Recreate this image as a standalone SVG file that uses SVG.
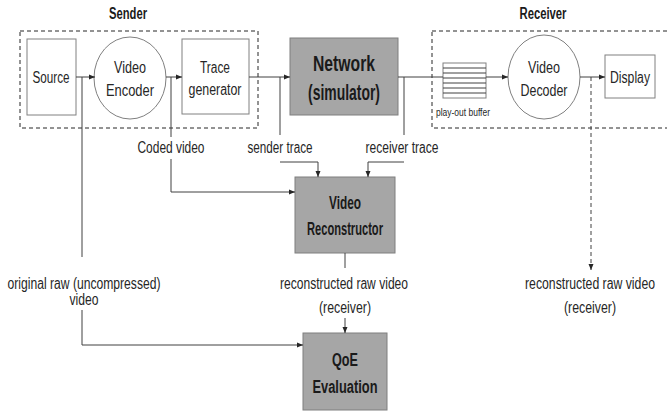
<svg xmlns="http://www.w3.org/2000/svg" width="667" height="416" viewBox="0 0 667 416">
<style>
text{font-family:"Liberation Sans",Arial,sans-serif;font-size:16px;fill:#262626;text-anchor:middle}
.b{font-weight:bold;fill:#1a1a1a}
.box{fill:#fff;stroke:#808080;stroke-width:1}
.g{fill:#a6a6a6;stroke:#7f7f7f;stroke-width:1}
.dash{fill:none;stroke:#262626;stroke-width:1;stroke-dasharray:4 3}
.ln{fill:none;stroke:#404040;stroke-width:1}
.ar{fill:none;stroke:#404040;stroke-width:1;marker-end:url(#ah)}
</style>
<defs>
<marker id="ah" viewBox="0 0 6 6" refX="6" refY="3" markerWidth="6" markerHeight="6" markerUnits="userSpaceOnUse" orient="auto">
<path d="M0,0.5 L6,3 L0,5.5 z" fill="#262626"/>
</marker>
</defs>
<g id="sender">
<rect class="dash" x="20" y="31" width="238" height="97"/>
<text class="b" x="128" y="19" style="font-size:16px" textLength="38" lengthAdjust="spacingAndGlyphs">Sender</text>
</g>
<g id="receiver">
<rect class="dash" x="432" y="31" width="245" height="97"/>
<text class="b" x="543" y="19" style="font-size:16px" textLength="47" lengthAdjust="spacingAndGlyphs">Receiver</text>
</g>
<g id="source">
<rect class="box" x="27" y="39" width="49" height="76"/>
<text x="51" y="83" textLength="37" lengthAdjust="spacingAndGlyphs">Source</text>
</g>
<g id="encoder">
<ellipse class="box" cx="130" cy="78" rx="36" ry="41"/>
<text x="130" y="73" textLength="32" lengthAdjust="spacingAndGlyphs">Video</text>
<text x="130" y="96" textLength="48" lengthAdjust="spacingAndGlyphs">Encoder</text>
</g>
<g id="trace">
<rect class="box" x="182" y="39" width="67" height="75"/>
<text x="215" y="73" textLength="30" lengthAdjust="spacingAndGlyphs">Trace</text>
<text x="215" y="95" textLength="53" lengthAdjust="spacingAndGlyphs">generator</text>
</g>
<g id="network">
<rect class="g" x="290" y="38" width="108" height="77"/>
<text class="b" x="344" y="71" style="font-size:22px" textLength="62" lengthAdjust="spacingAndGlyphs">Network</text>
<text class="b" x="344" y="100" style="font-size:22px" textLength="72" lengthAdjust="spacingAndGlyphs">(simulator)</text>
</g>
<g id="buffer">
<rect class="box" x="443" y="63" width="43" height="35"/>
<path class="ln" d="M443,68H486M443,73H486M443,78H486M443,83H486M443,88H486M443,93H486"/>
<text x="463" y="116" style="font-size:10.5px" textLength="54" lengthAdjust="spacingAndGlyphs">play-out buffer</text>
</g>
<g id="decoder">
<ellipse class="box" cx="544" cy="77" rx="36" ry="42"/>
<text x="544" y="73" textLength="32" lengthAdjust="spacingAndGlyphs">Video</text>
<text x="544" y="96" textLength="47" lengthAdjust="spacingAndGlyphs">Decoder</text>
</g>
<g id="display">
<rect class="box" x="605" y="55" width="50" height="43"/>
<text x="630" y="83" textLength="40" lengthAdjust="spacingAndGlyphs">Display</text>
</g>
<g id="reconstructor">
<rect class="g" x="295" y="177" width="100" height="76"/>
<text class="b" x="345" y="209" style="font-size:18px" textLength="32" lengthAdjust="spacingAndGlyphs">Video</text>
<text class="b" x="345" y="235" style="font-size:18px" textLength="76" lengthAdjust="spacingAndGlyphs">Reconstructor</text>
</g>
<g id="qoe">
<rect class="g" x="303" y="333" width="84" height="77"/>
<text class="b" x="345" y="366" style="font-size:18px" textLength="26" lengthAdjust="spacingAndGlyphs">QoE</text>
<text class="b" x="345" y="393" style="font-size:18px" textLength="65" lengthAdjust="spacingAndGlyphs">Evaluation</text>
</g>
<g id="connectors">
<path class="ar" d="M76,77H95"/>
<path class="ar" d="M166,77H182"/>
<path class="ar" d="M249,77H290"/>
<path class="ln" d="M398,77H443"/>
<path class="ar" d="M486,77H508"/>
<path class="ar" d="M580,77H605"/>
<path class="ar" d="M591,77V270" stroke-dasharray="4 3"/>
<path class="ln" d="M82,77V257"/>
<path class="ar" d="M82,310V345H303"/>
<path class="ln" d="M171,77V137"/>
<path class="ar" d="M171,159V192H295"/>
<path class="ln" d="M280,77V135"/>
<path class="ar" d="M280,162H318V177"/>
<path class="ln" d="M404,77V135"/>
<path class="ar" d="M404,162H368V177"/>
<path class="ln" d="M345,253V268"/>
<path class="ar" d="M345,318V333"/>
</g>
<g id="labels">
<text x="171" y="153" textLength="67" lengthAdjust="spacingAndGlyphs">Coded video</text>
<text x="280" y="153" textLength="65" lengthAdjust="spacingAndGlyphs">sender trace</text>
<text x="402" y="153" textLength="73" lengthAdjust="spacingAndGlyphs">receiver trace</text>
<text x="84" y="289" textLength="153" lengthAdjust="spacingAndGlyphs">original raw (uncompressed)</text>
<text x="84" y="305" textLength="29" lengthAdjust="spacingAndGlyphs">video</text>
<text x="344" y="289" textLength="128" lengthAdjust="spacingAndGlyphs">reconstructed raw video</text>
<text x="345" y="313" textLength="52" lengthAdjust="spacingAndGlyphs">(receiver)</text>
<text x="590" y="289" textLength="130" lengthAdjust="spacingAndGlyphs">reconstructed raw video</text>
<text x="590" y="313" textLength="52" lengthAdjust="spacingAndGlyphs">(receiver)</text>
</g>
</svg>
